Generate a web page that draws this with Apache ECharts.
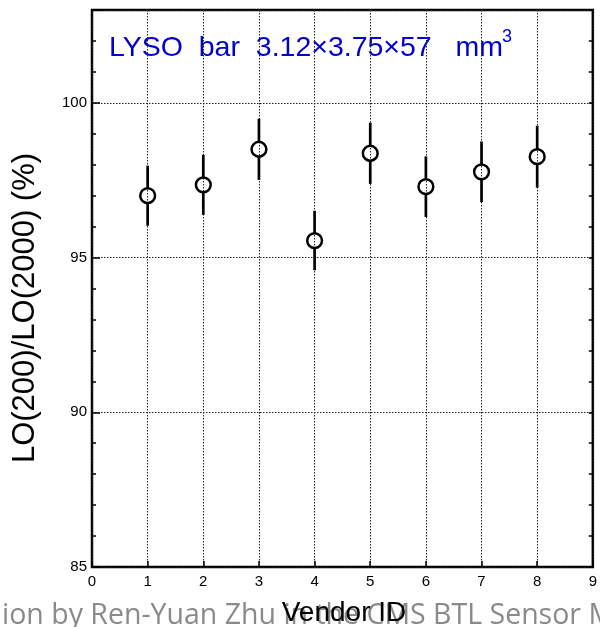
<!DOCTYPE html>
<html>
<head>
<meta charset="utf-8">
<script src="https://cdn.jsdelivr.net/npm/echarts@6/dist/echarts.min.js"></script>
<style>
html,body{margin:0;padding:0;background:#fff;}
#chart{width:600px;height:627px;}
</style>
</head>
<body>
<div id="chart"></div>
<script>
const vendorIds = [1, 2, 3, 4, 5, 6, 7, 8];
const loRatio = [97.0, 97.35, 98.5, 95.55, 98.37, 97.29, 97.77, 98.26];
const loError = [0.97, 0.97, 0.99, 0.96, 0.99, 0.98, 0.98, 1.0];
const xTickLabels = ['0', '1', '2', '3', '4', '5', '6', '7', '8', '9'];
const yTickLabels = ['85', '90', '95', '100'];
const titleText = 'LYSO  bar  3.12×3.75×57   mm';
const titleSup = '3';
const xTitle = 'Vendor ID';
const yTitle = 'LO(200)/LO(2000) (%)';
const watermark = 'ion by Ren-Yuan Zhu in the CMS BTL Sensor Me';

const chart = echarts.init(document.getElementById('chart'), null, {renderer: 'canvas'});
const FONT = 'Liberation Sans, Arial, sans-serif';
const gridLine = {show: true, lineStyle: {color: '#222', width: 1, type: [1.5, 1.5]}};

const points = vendorIds.map((v, i) => [v, loRatio[i], loError[i]]);

function renderItem(params, api) {
  const x = api.value(0), y = api.value(1), e = api.value(2);
  const c = api.coord([x, y]);
  const t = api.coord([x, y + e]);
  const b = api.coord([x, y - e]);
  const r = 7.4;
  const st = {stroke: '#000', lineWidth: 2.7, fill: null};
  return {
    type: 'group',
    children: [
      {type: 'line', shape: {x1: c[0], y1: t[1], x2: c[0], y2: c[1] - r}, style: st},
      {type: 'line', shape: {x1: c[0], y1: c[1] + r, x2: c[0], y2: b[1]}, style: st},
      {type: 'circle', shape: {cx: c[0], cy: c[1], r: r}, style: {stroke: '#000', lineWidth: 2.5, fill: 'rgba(0,0,0,0)'}}
    ]
  };
}

const option = {
  backgroundColor: '#fff',
  animation: false,
  grid: {left: 92, top: 10, right: 5, bottom: 60, show: true, borderColor: '#000', borderWidth: 2.5, backgroundColor: 'rgba(0,0,0,0)'},
  xAxis: [{
    type: 'value', min: 0, max: 9, interval: 1, position: 'bottom',
    axisLine: {show: false},
    axisTick: {show: true, inside: true, length: 6, lineStyle: {color: '#000', width: 1.5}},
    axisLabel: {color: '#000', fontFamily: FONT, fontSize: 15, margin: 7,
      formatter: v => xTickLabels[Math.round(v)] || ''},
    splitLine: gridLine
  }],
  yAxis: [{
    type: 'value', min: 85, max: 103, interval: 5, position: 'left',
    axisLine: {show: false},
    axisTick: {show: true, inside: true, length: 8, lineStyle: {color: '#000', width: 1.5}},
    axisLabel: {color: '#000', fontFamily: FONT, fontSize: 15, margin: 5,
      formatter: v => yTickLabels.indexOf(String(v)) >= 0 ? String(v) : ''},
    splitLine: gridLine
  }, {
    type: 'value', min: 85, max: 103, interval: 1, position: 'left',
    axisLine: {show: false},
    axisTick: {show: true, inside: true, length: 4, lineStyle: {color: '#000', width: 1.5}},
    axisLabel: {show: false},
    splitLine: {show: false}
  }, {
    type: 'value', min: 85, max: 103, interval: 1, position: 'right',
    axisLine: {show: false},
    axisTick: {show: true, inside: true, length: 4, lineStyle: {color: '#000', width: 1.5}},
    axisLabel: {show: false},
    splitLine: {show: false}
  }],
  series: [{
    type: 'custom',
    renderItem: renderItem,
    xAxisIndex: 0, yAxisIndex: 0,
    encode: {x: 0, y: 1},
    data: points,
    z: 10
  }],
  graphic: [
    {type: 'text', left: 109, top: 34, style: {text: titleText, fill: '#0000d0', font: '28.5px ' + FONT}},
    {type: 'text', left: 502, top: 28, style: {text: titleSup, fill: '#0000d0', font: '18px ' + FONT}},
    {type: 'text', x: 25, y: 308, rotation: Math.PI / 2,
      style: {text: yTitle, fill: '#000', font: '31px ' + FONT, textAlign: 'center', textVerticalAlign: 'middle'}},
    {type: 'text', x: 2, y: 616, z: 1,
      style: {text: watermark, fill: '#8a8a8a', font: '28.5px "Open Sans", sans-serif', textAlign: 'left', textVerticalAlign: 'middle'}},
    {type: 'text', x: 344, y: 613, z: 2,
      style: {text: xTitle, fill: '#000', font: '28px ' + FONT, textAlign: 'center', textVerticalAlign: 'middle'}}
  ]
};
chart.setOption(option);
</script>
</body>
</html>
